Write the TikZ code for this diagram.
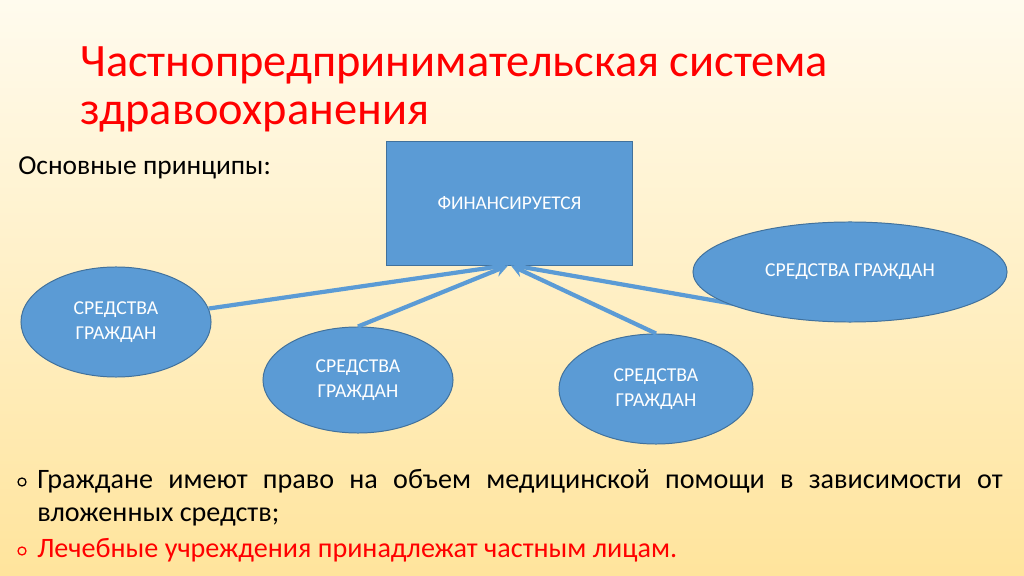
\documentclass[tikz,border=0pt]{standalone}
\usepackage{fontspec}
\setmainfont{Carlito}
\usetikzlibrary{shapes.geometric}
\usetikzlibrary{positioning}
\definecolor{bgtop}{HTML}{FFFBEE}
\definecolor{bgbot}{HTML}{FFE49C}
\definecolor{fillblue}{HTML}{5B9BD5}
\definecolor{edgeblue}{HTML}{41719C}
\definecolor{txtred}{HTML}{FF0000}
\tikzset{%
  linkarrow/.style = {-stealth,solid,fillblue,line width=3pt},
  e/.style = {ellipse,draw=edgeblue,fill=fillblue,line width=0.7pt,
        text=white,align=center,inner sep=0pt,
        font=\fontsize{14}{18}\selectfont},
  r/.style = {rectangle,draw=edgeblue,fill=fillblue,line width=0.7pt,
        text=white,inner sep=0pt,font=\fontsize{13.8}{16}\selectfont},
  txt/.style = {inner sep=0pt,anchor=base west,
        font=\fontsize{20}{24}\selectfont},
  ttl/.style = {txt,text=txtred,font=\fontsize{33}{40}\selectfont}
}
\begin{document}
\begin{tikzpicture}[x=0.025cm,y=-0.025cm]
   \shade[top color=bgtop,bottom color=bgbot] (0,0) rectangle (1024,576);
   \useasboundingbox (0,0) rectangle (1024,576);

   % title
   \node[ttl] (title) at (80,77) {Частнопредпринимательская система};
   \node[ttl] (title2) at (80,125) {здравоохранения};
   \node[txt,font=\fontsize{19.5}{24}\selectfont] (principles) at (18,175)
      {Основные принципы:};

   % diagram
   \node[r,minimum width=6.125cm,minimum height=3.075cm] (fin) at (509.5,203.5)
      {ФИНАНСИРУЕТСЯ};
   \node[e,minimum width=4.75cm,minimum height=2.75cm] (left) at (116,322)
      {СРЕДСТВА\\ГРАЖДАН};
   \node[e,minimum width=4.75cm,minimum height=2.65cm] (midleft) at (358,380)
      {СРЕДСТВА\\ГРАЖДАН};
   \node[e,minimum width=4.85cm,minimum height=2.75cm] (midright) at (656,389)
      {СРЕДСТВА\\ГРАЖДАН};

   \draw[linkarrow] (left) -- ([xshift=-3pt]fin.south);
   \draw[linkarrow] (midleft.north) -- ([xshift=-1pt]fin.south);
   \draw[linkarrow] (midright.north) -- ([xshift=1pt]fin.south);
   \coordinate (rstart) at (740,305);
   \draw[linkarrow] (rstart) -- ([xshift=3pt]fin.south);

   \node[e,minimum width=7.85cm,minimum height=2.5cm] (right) at (850,272)
      {СРЕДСТВА ГРАЖДАН};

   % bullets
   \node[circle,draw,line width=0.9pt,minimum size=0.2cm,inner sep=0pt] (b1) at (22,482) {};
   \node[txt,text width=24.125cm,align=justify] (item1) at (37,488)
      {Граждане имеют право на объем медицинской помощи в зависимости от\linebreak вложенных средств;};
   \node[circle,draw=txtred,line width=0.9pt,minimum size=0.2cm,inner sep=0pt] (b2) at (22,551) {};
   \node[txt,text=txtred] (item2) at (37,557)
      {Лечебные учреждения принадлежат частным лицам.};
\end{tikzpicture}
\end{document}
